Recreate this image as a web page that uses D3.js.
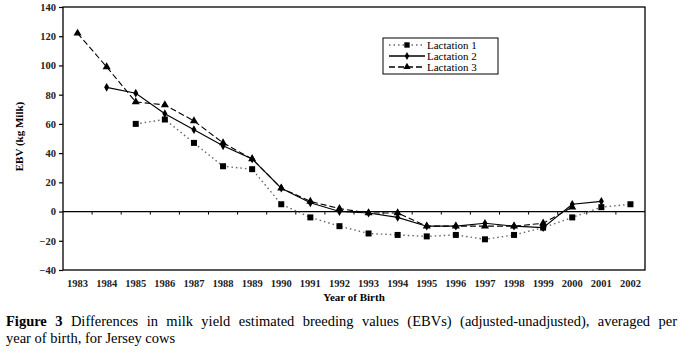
<!DOCTYPE html>
<html>
<head>
<meta charset="utf-8">
<script src="https://cdn.jsdelivr.net/npm/d3@7"></script>
<style>
  body { margin: 0; background: #fff; }
  #chart { position: absolute; left: 0; top: 0; }
  #caption {
    position: absolute; left: 6px; top: 313px; width: 671px;
    font-family: "Liberation Serif", "Times New Roman", serif;
    font-size: 14.5px; line-height: 17px; color: #000;
  }
  #caption .l1 { text-align: justify; text-align-last: justify; white-space: nowrap; }
  svg text { font-family: "Liberation Serif", "Times New Roman", serif; }
</style>
</head>
<body>
<svg id="chart"></svg>
<div id="caption"><div class="l1"><b>Figure 3</b> Differences in milk yield estimated breeding values (EBVs) (adjusted-unadjusted), averaged per</div><div>year of birth, for Jersey cows</div></div>
<script>
// Data
const years = d3.range(1983, 2003);
const yTicks = [-40, -20, 0, 20, 40, 60, 80, 100, 120, 140];

const lact1Years = [1985, 1986, 1987, 1988, 1989, 1990, 1991, 1992, 1993, 1994, 1995, 1996, 1997, 1998, 1999, 2000, 2001, 2002];
const lact1 = [60, 63, 47, 31, 29, 5, -4, -10, -15, -16, -17, -16, -19, -16, -11, -4, 3, 5];

const lact2Years = [1984, 1985, 1986, 1987, 1988, 1989, 1990, 1991, 1992, 1993, 1994, 1995, 1996, 1997, 1998, 1999, 2000, 2001];
const lact2 = [85, 81, 67, 56, 45, 36, 16, 6, 0, -1, -4, -10, -10, -8, -10, -11, 5, 7];

const lact3Years = [1983, 1984, 1985, 1986, 1987, 1988, 1989, 1990, 1991, 1992, 1993, 1994, 1995, 1996, 1997, 1998, 1999, 2000];
const lact3 = [122, 99, 75, 73, 62, 47, 36, 16, 7, 2, -1, -1, -10, -10, -10, -10, -8, 3];

const W = 681, H = 356;
const mLeft = 63, mRight = 645, mTop = 7, mBottom = 270;

const svg = d3.select("#chart").attr("width", W).attr("height", H);

const x = d3.scaleBand().domain(years).range([mLeft, mRight]);
const y = d3.scaleLinear().domain([-40, 140]).range([mBottom, mTop]);

// plot box
svg.append("rect")
  .attr("x", mLeft).attr("y", mTop)
  .attr("width", mRight - mLeft).attr("height", mBottom - mTop)
  .attr("fill", "none").attr("stroke", "#000").attr("stroke-width", 1.3);

// y axis
const yAxis = svg.append("g")
  .attr("transform", `translate(${mLeft},0)`)
  .call(d3.axisLeft(y).tickValues(yTicks).tickSize(4).tickSizeOuter(0));
yAxis.select(".domain").remove();
yAxis.attr("font-family", null);
yAxis.selectAll("line").attr("stroke", "#000").attr("stroke-width", 1.2);
yAxis.selectAll("text")
  .attr("font-size", 10.5).attr("font-weight", "bold").attr("fill", "#222");

// zero line with category ticks
svg.append("line")
  .attr("x1", mLeft).attr("x2", mRight)
  .attr("y1", y(0)).attr("y2", y(0))
  .attr("stroke", "#000").attr("stroke-width", 1.3);
svg.append("g").selectAll("line")
  .data(years.slice(1))
  .join("line")
  .attr("x1", d => x(d)).attr("x2", d => x(d))
  .attr("y1", y(0)).attr("y2", y(0) + 3)
  .attr("stroke", "#000");

// x labels
svg.append("g").selectAll("text")
  .data(years)
  .join("text")
  .attr("x", d => x(d) + x.bandwidth() / 2)
  .attr("y", 287)
  .attr("text-anchor", "middle")
  .attr("font-size", 10.5).attr("font-weight", "bold").attr("fill", "#222")
  .text(d => d);

svg.append("text")
  .attr("x", (mLeft + mRight) / 2).attr("y", 301)
  .attr("text-anchor", "middle")
  .attr("font-size", 11).attr("font-weight", "bold")
  .text("Year of Birth");

svg.append("text")
  .attr("transform", `translate(23,${(mTop + mBottom) / 2 - 2}) rotate(-90)`)
  .attr("text-anchor", "middle")
  .attr("font-size", 11).attr("font-weight", "bold")
  .text("EBV (kg Milk)");

const cx = d => x(d) + x.bandwidth() / 2;

const series = [
  { name: "Lactation 1", yrs: lact1Years, vals: lact1, dash: "1.5,3", color: "#666", width: 1.4, sym: d3.symbolSquare, size: 36 },
  { name: "Lactation 2", yrs: lact2Years, vals: lact2, dash: null, color: "#000", width: 1.1, sym: d3.symbolDiamond, size: 22 },
  { name: "Lactation 3", yrs: lact3Years, vals: lact3, dash: "6,3", color: "#000", width: 1.1, sym: d3.symbolTriangle, size: 28 }
];

const line = d3.line().x(d => cx(d[0])).y(d => y(d[1]));

series.forEach(s => {
  const pts = s.yrs.map((yr, i) => [yr, s.vals[i]]);
  svg.append("path")
    .datum(pts)
    .attr("d", line)
    .attr("fill", "none")
    .attr("stroke", s.color)
    .attr("stroke-width", s.width)
    .attr("stroke-dasharray", s.dash);
  svg.append("g").selectAll("path")
    .data(pts)
    .join("path")
    .attr("transform", d => `translate(${cx(d[0])},${y(d[1])})`)
    .attr("d", d3.symbol().type(s.sym).size(s.size))
    .attr("fill", "#000");
});

// legend
const lg = svg.append("g").attr("transform", "translate(383,38)");
lg.append("rect").attr("width", 115).attr("height", 36)
  .attr("fill", "#fff").attr("stroke", "#000").attr("stroke-width", 1);
series.forEach((s, i) => {
  const ly = 7 + i * 11;
  lg.append("line")
    .attr("x1", 6).attr("x2", 42).attr("y1", ly).attr("y2", ly)
    .attr("stroke", s.color).attr("stroke-width", s.width + 0.3)
    .attr("stroke-dasharray", s.dash);
  lg.append("path")
    .attr("transform", `translate(24,${ly})`)
    .attr("d", d3.symbol().type(s.sym).size(s.size * 0.8))
    .attr("fill", "#000");
  lg.append("text")
    .attr("x", 44).attr("y", ly + 3.5)
    .attr("font-size", 11)
    .text(s.name);
});
</script>
</body>
</html>
